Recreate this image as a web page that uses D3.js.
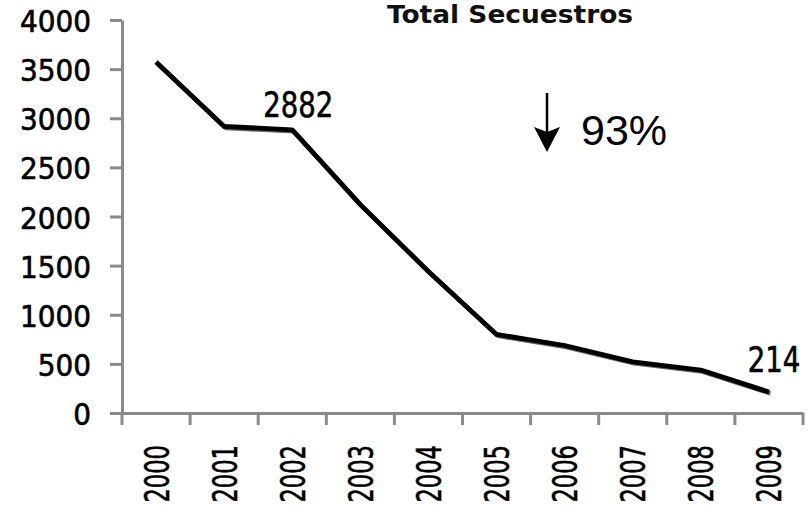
<!DOCTYPE html>
<html>
<head>
<meta charset="utf-8">
<script src="https://cdn.jsdelivr.net/npm/d3@7"></script>
<style>
  html, body { margin: 0; padding: 0; background: #fff; }
  svg { display: block; }
</style>
</head>
<body>
<svg id="chart" width="811" height="519"></svg>
<script>
const years = ["2000","2001","2002","2003","2004","2005","2006","2007","2008","2009"];
const kidnappings = [3572, 2917, 2882, 2121, 1440, 800, 687, 521, 437, 214];
const yTicks = [0, 500, 1000, 1500, 2000, 2500, 3000, 3500, 4000];
const title = "Total Secuestros";
const labelled = ["2002", "2009"];
const changeText = "93%";

const svg = d3.select("#chart");
const axisColor = "#8a8a8a";
const numFont = "'DejaVu Sans Condensed', 'DejaVu Sans', sans-serif";

const x = d3.scaleBand().domain(years).range([122, 803]);
const y = d3.scaleLinear().domain([0, 4000]).range([413, 20]);

// Title
svg.append("text")
  .attr("transform", "translate(510,23) scale(1.08,1)")
  .attr("text-anchor", "middle")
  .attr("font-family", "'DejaVu Sans', sans-serif")
  .attr("font-weight", "bold")
  .attr("font-size", 24.5)
  .attr("fill", "#111")
  .text(title);

// Y axis
const yAxis = svg.append("g")
  .attr("transform", `translate(${x.range()[0]},0)`)
  .call(d3.axisLeft(y).tickValues(yTicks).tickSize(12).tickSizeOuter(0).tickPadding(19));
yAxis.select(".domain").attr("stroke", axisColor).attr("stroke-width", 3);
yAxis.selectAll(".tick line").attr("stroke", axisColor).attr("stroke-width", 3);
yAxis.selectAll(".tick text")
  .attr("font-family", numFont)
  .attr("font-size", 31)
  .attr("fill", "#000")
  .attr("stroke", "#000")
  .attr("stroke-width", 0.6)
  .attr("dy", null)
  .attr("y", 11.5)
  .text(d => d);

// X axis (domain line) + ticks at band boundaries
const xAxis = svg.append("g")
  .attr("transform", `translate(0,${y(0)})`)
  .call(d3.axisBottom(x).tickSize(0).tickFormat(""));
xAxis.select(".domain").attr("stroke", axisColor).attr("stroke-width", 3);
const boundaries = years.map(d => x(d)).concat([x.range()[1]]);
svg.append("g").selectAll("line").data(boundaries).join("line")
  .attr("x1", d => d).attr("x2", d => d)
  .attr("y1", y(0)).attr("y2", y(0) + 12)
  .attr("stroke", axisColor).attr("stroke-width", 3);

// Year labels (rotated)
svg.append("g").selectAll("text").data(years).join("text")
  .attr("transform", d => `translate(${x(d) + x.bandwidth() / 2 + 12.5},445) rotate(-90) scale(0.74,1)`)
  .attr("text-anchor", "end")
  .attr("font-family", numFont)
  .attr("font-size", 34)
  .attr("fill", "#000")
  .attr("stroke", "#000")
  .attr("stroke-width", 0.6)
  .text(d => d);

// Line
const pts = years.map((d, i) => [x(d) + x.bandwidth() / 2, y(kidnappings[i])]);
const line = d3.line();
svg.append("path")
  .attr("d", line(pts))
  .attr("transform", "translate(1.5,1.5)")
  .attr("fill", "none")
  .attr("stroke", "#666")
  .attr("stroke-width", 4.5)
  .attr("stroke-linejoin", "round");
svg.append("path")
  .attr("d", line(pts))
  .attr("fill", "none")
  .attr("stroke", "#000")
  .attr("stroke-width", 4.8)
  .attr("stroke-linejoin", "round");

// Data labels
const labelOffsets = { "2002": [6, -13], "2009": [5, -20] };
svg.append("g").selectAll("text").data(labelled).join("text")
  .attr("transform", d => {
    const i = years.indexOf(d);
    const o = labelOffsets[d];
    return `translate(${pts[i][0] + o[0]},${pts[i][1] + o[1]}) scale(0.85,1)`;
  })
  .attr("text-anchor", "middle")
  .attr("font-family", numFont)
  .attr("font-size", 36)
  .attr("fill", "#000")
  .attr("stroke", "#000")
  .attr("stroke-width", 0.6)
  .text(d => kidnappings[years.indexOf(d)]);

// Arrow + percent
const ax = 547;
svg.append("line")
  .attr("x1", ax).attr("x2", ax).attr("y1", 93).attr("y2", 140)
  .attr("stroke", "#000").attr("stroke-width", 2.5);
svg.append("path")
  .attr("d", `M${ax},152 L${ax - 13},127 L${ax},132 L${ax + 13},127 Z`)
  .attr("fill", "#000");
svg.append("text")
  .attr("x", 581).attr("y", 145)
  .attr("font-family", "'Liberation Sans', Arial, sans-serif")
  .attr("font-size", 43)
  .attr("fill", "#000")
  .text(changeText);
</script>
</body>
</html>
